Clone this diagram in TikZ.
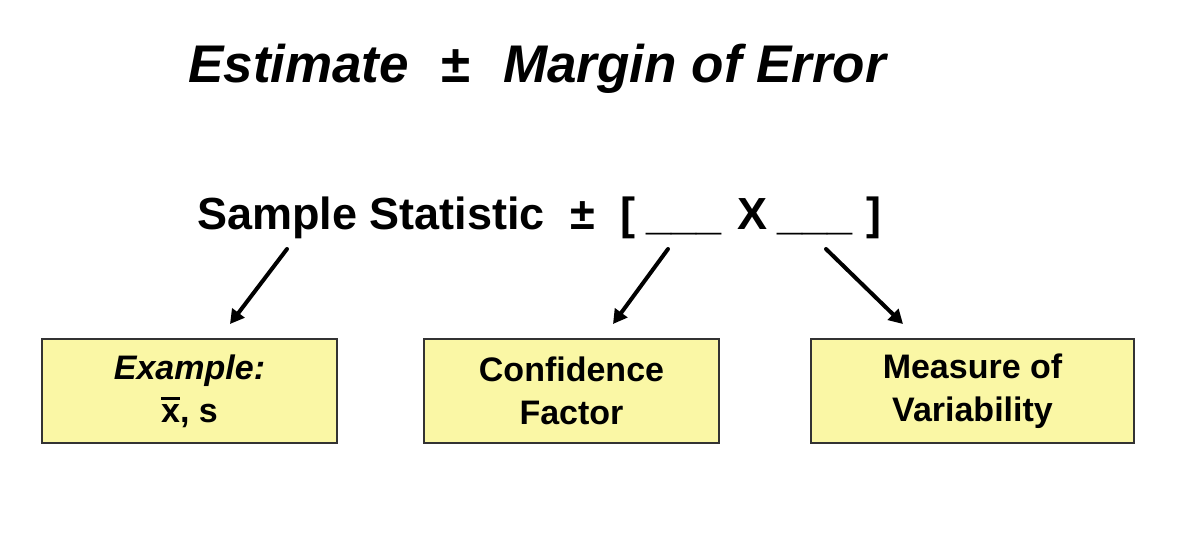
\documentclass[tikz,border=0pt]{standalone}
\usepackage{fontspec}
\setmainfont{Liberation Sans}
\usetikzlibrary{arrows.meta}
\newcommand{\xbarbold}{\leavevmode\rlap{\raisebox{0.66em}{\rule{0.55em}{0.07em}}}x}
\tikzset{
  infobox/.style={draw=black!80, line width=1.2pt, fill={rgb,255:red,250;green,247;blue,165},
    minimum width=#1, minimum height=104pt, inner sep=0pt, align=center,
    font=\fontsize{34pt}{43pt}\selectfont\bfseries},
  titletext/.style={inner sep=0pt, anchor=base west, font=\fontsize{53pt}{60pt}\selectfont\bfseries\itshape},
  formtext/.style={inner sep=0pt, anchor=base west, font=\fontsize{45pt}{52pt}\selectfont\bfseries},
  pointer/.style={line width=4pt, line cap=round, -{Triangle[length=14pt,width=15pt]}}
}
\begin{document}
\begin{tikzpicture}[x=1pt,y=-1pt]
\useasboundingbox (0,0) rectangle (1204,544);
% title
\node[titletext] (t1) at (188,82) {Estimate};
\node[titletext] (t2) at (440,82) {±};
\node[titletext] (t3) at (503,82) {Margin of Error};
% formula
\node[formtext] (f1) at (197,229) {Sample Statistic};
\node[formtext] (f2) at (570,229) {±};
\node[formtext] (f3) at (620,229) {[};
\node[formtext] (f4) at (646,229) {\_\_\_};
\node[formtext] (f5) at (737,229) {X};
\node[formtext] (f6) at (777,229) {\_\_\_};
\node[formtext] (f7) at (866,229) {]};
% boxes
\node[infobox=295pt] (b1) at (189.5,391) {\textit{Example:}\\\xbarbold, s};
\node[infobox=295pt] (b2) at (571.5,391) {Confidence\\Factor};
\node[infobox=323pt] (b3) at (972.5,391) {Measure of\\Variability};
% arrows
\coordinate (s1) at (287,249);
\coordinate (e1) at (230,324);
\coordinate (s2) at (668,249);
\coordinate (e2) at (613,324);
\coordinate (s3) at (826,249);
\coordinate (e3) at (903,324);
\draw[pointer] (s1) -- (e1);
\draw[pointer] (s2) -- (e2);
\draw[pointer] (s3) -- (e3);
\end{tikzpicture}
\end{document}
